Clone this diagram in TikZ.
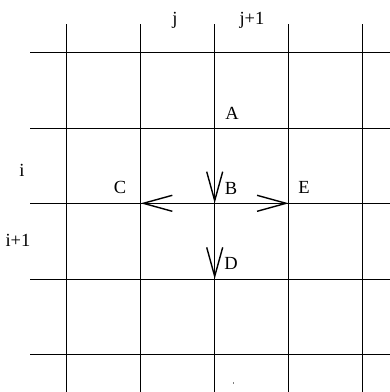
\documentclass[tikz,border=0pt]{standalone}
\usepackage{fontspec}
\setmainfont{Liberation Serif}
\usetikzlibrary{arrows.meta}
\begin{document}
\begin{tikzpicture}[x=1pt,y=-1pt,
  gridline/.style={line width=0.8pt,black},
  flow/.style={line width=1.5pt,-{Straight Barb[length=29pt,width=16pt,line width=1.4pt]}},
  lbl/.style={inner sep=0pt,font=\fontsize{18.5}{20}\selectfont}]
\useasboundingbox (0,0) rectangle (390,392);
% grid
\foreach \y in {52.3,128,203.3,279,354.3} \draw[gridline] (30,\y) -- (390,\y);
\foreach \x in {66.7,140.7,214.7,288.7,362.7} \draw[gridline] (\x,24) -- (\x,392);
% points
\coordinate (A) at (214.7,129);
\coordinate (B) at (214.7,203.3);
\coordinate (C) at (140.7,203.3);
\coordinate (E) at (288.7,203.3);
\coordinate (D) at (214.7,279);
% arrows
\draw[flow] (A) -- (B);
\draw[flow] (B) -- (C);
\draw[flow] (B) -- (E);
\draw[flow] (B) -- (D);
% labels
\node[lbl] (lj) at (175,20) {j};
\node[lbl] (lj1) at (252,20) {j+1};
\node[lbl] (li) at (22,170) {i};
\node[lbl] (li1) at (18,240) {i+1};
\node[lbl] (lA) at (232,113) {A};
\node[lbl] (lB) at (231,188) {B};
\node[lbl] (lC) at (120,187) {C};
\node[lbl] (lE) at (304,187) {E};
\node[lbl] (lD) at (231,263) {D};
% tiny mark
\draw[line width=0.5pt,gray] (233,382) -- (233,383.5);
\end{tikzpicture}
\end{document}
